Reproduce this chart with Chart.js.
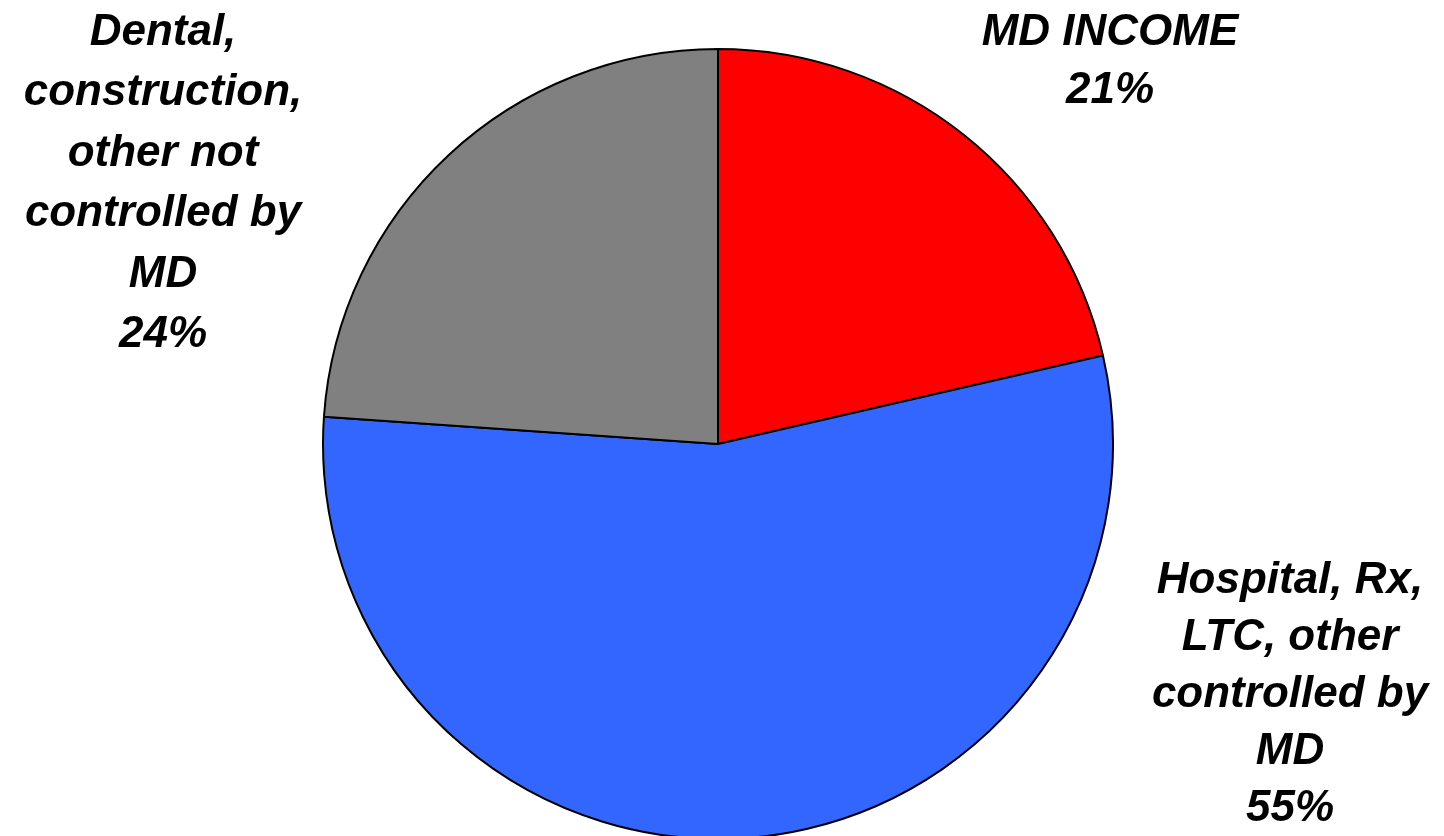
<!DOCTYPE html>
<html>
<head>
<meta charset="utf-8">
<script src="https://cdn.jsdelivr.net/npm/chart.js@4"></script>
<style>
  html, body { margin: 0; padding: 0; background: #fff; overflow: hidden; }
  #wrap { width: 1444px; height: 836px; overflow: hidden; }
</style>
</head>
<body>
<div id="wrap"><canvas id="pie" width="1444" height="841"></canvas></div>
<script>
// slice categories (clockwise from 12 o'clock) and their shares in percent
const categories = [
  'MD INCOME',
  'Hospital, Rx,\nLTC, other\ncontrolled by\nMD',
  'Dental,\nconstruction,\nother not\ncontrolled by\nMD'
];
// shares as drawn (labels show them rounded: 21%, 55%, 24%)
const shares = [21.4, 54.7, 23.9];
const sliceColors = ['#FF0000', '#3366FF', '#808080'];

// where each label block sits (first baseline) and its line spacing
const labelLayout = [
  { x: 1110, y: 45, lineHeight: 58 },
  { x: 1290, y: 593, lineHeight: 57 },
  { x: 163, y: 45, lineHeight: 60.4 }
];

const outsideLabels = {
  id: 'outsideLabels',
  afterDraw(chart) {
    const ctx = chart.ctx;
    ctx.save();
    ctx.fillStyle = '#000';
    ctx.font = 'italic bold 44px "Liberation Sans", Arial, sans-serif';
    ctx.textAlign = 'center';
    ctx.textBaseline = 'alphabetic';
    chart.data.labels.forEach((cat, i) => {
      const pct = Math.round(chart.data.datasets[0].data[i]) + '%';
      const lines = cat.split('\n').concat(pct);
      const pos = labelLayout[i];
      lines.forEach((ln, k) => ctx.fillText(ln, pos.x, pos.y + k * pos.lineHeight));
    });
    ctx.restore();
  }
};

new Chart(document.getElementById('pie'), {
  type: 'pie',
  data: {
    labels: categories,
    datasets: [{
      data: shares,
      backgroundColor: sliceColors,
      borderColor: '#000',
      borderWidth: 2
    }]
  },
  options: {
    responsive: false,
    animation: false,
    layout: { padding: { top: 48, bottom: 1, left: 0, right: 8 } },
    plugins: {
      legend: { display: false },
      tooltip: { enabled: false }
    }
  },
  plugins: [outsideLabels]
});
</script>
</body>
</html>
